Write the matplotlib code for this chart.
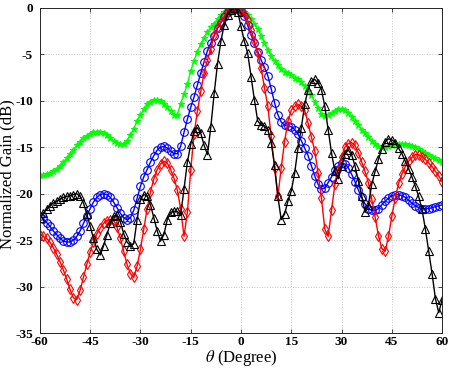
import matplotlib
matplotlib.use("Agg")
import matplotlib.pyplot as plt
import numpy as np

plt.rcParams["font.family"] = "serif"
plt.rcParams["font.serif"] = ["Liberation Serif", "DejaVu Serif"]
plt.rcParams["mathtext.fontset"] = "stix"

# scan angle, 1 degree steps
theta = list(range(-60, 61))
x_ticks = list(range(-60, 61, 15))
y_ticks = list(range(-35, 1, 5))

gain_green = [
    -18.0, -18.0, -17.9, -17.8, -17.6, -17.3, -17.0, -16.6, -16.2, -15.7,
    -15.3, -14.8, -14.4, -14.0, -13.8, -13.6, -13.4, -13.4, -13.4, -13.5,
    -13.7, -14.0, -14.3, -14.5, -14.6, -14.6, -14.3, -13.7, -13.0, -12.2,
    -11.5, -10.9, -10.4, -10.1, -9.9, -9.9, -10.0, -10.3, -10.7, -11.1,
    -11.5, -11.5, -10.3, -9.3, -8.2, -6.8, -5.7, -4.7, -3.9, -3.2,
    -2.6, -2.1, -1.7, -1.2, -0.8, -0.5, -0.2, 0.0, 0.0, -0.1,
    -0.3, -0.5, -0.8, -1.2, -1.7, -2.3, -3.0, -3.8, -4.5, -5.2,
    -5.7, -6.2, -6.6, -6.9, -7.0, -7.2, -7.5, -7.7, -8.0, -8.4,
    -8.9, -9.4, -10.1, -10.8, -11.4, -11.6, -11.5, -11.3, -11.1, -10.9,
    -10.9, -11.0, -11.3, -11.7, -12.2, -12.6, -13.1, -13.5, -13.9, -14.3,
    -14.7, -14.9, -15.0, -15.0, -14.9, -14.8, -14.7, -14.6, -14.6, -14.7,
    -14.8, -14.9, -15.0, -15.2, -15.4, -15.6, -15.8, -16.0, -16.2, -16.4,
    -16.6,
]

gain_blue = [
    -22.4, -22.7, -23.1, -23.5, -24.0, -24.4, -24.8, -25.1, -25.2, -25.2,
    -25.0, -24.6, -24.0, -23.2, -22.4, -21.6, -20.9, -20.4, -20.1, -20.0,
    -20.1, -20.4, -20.9, -21.5, -22.1, -22.6, -22.8, -22.6, -21.8, -20.5,
    -19.2, -18.2, -17.4, -16.6, -15.9, -15.3, -15.0, -14.9, -15.1, -15.4,
    -15.7, -15.7, -14.9, -13.4, -12.0, -10.7, -9.6, -8.3, -7.0, -5.8,
    -4.6, -3.8, -3.0, -2.2, -1.6, -1.0, -0.5, -0.2, 0.0, -0.1,
    -0.4, -0.9, -1.9, -2.9, -3.8, -4.7, -5.6, -6.4, -7.3, -8.7,
    -10.2, -11.5, -12.3, -12.6, -12.7, -12.8, -13.1, -13.6, -14.3, -15.1,
    -15.9, -17.0, -18.1, -19.0, -19.5, -19.4, -18.8, -18.2, -17.5, -17.0,
    -16.7, -16.8, -17.2, -17.9, -18.7, -19.6, -20.4, -21.1, -21.6, -21.8,
    -21.8, -21.6, -21.2, -20.8, -20.5, -20.2, -20.1, -20.1, -20.2, -20.4,
    -20.7, -21.0, -21.3, -21.5, -21.6, -21.6, -21.6, -21.5, -21.4, -21.3,
    -21.2,
]

gain_red = [
    -24.4, -24.6, -24.8, -25.2, -25.8, -26.5, -27.3, -28.2, -29.2, -30.3,
    -31.2, -31.4, -30.4, -29.0, -27.6, -26.3, -25.2, -24.3, -23.7, -23.2,
    -22.9, -22.8, -22.8, -23.6, -24.8, -26.2, -27.6, -28.6, -29.0, -27.8,
    -26.0, -23.8, -21.6, -19.8, -18.4, -17.4, -16.8, -16.5, -16.7, -17.4,
    -18.3, -19.6, -21.6, -24.6, -22.0, -17.5, -13.6, -11.1, -9.0, -7.0,
    -5.6, -4.4, -2.9, -2.1, -1.5, -0.9, -0.5, -0.2, -0.05, 0.0,
    -0.3, -0.6, -1.3, -2.4, -3.6, -4.9, -6.5, -8.6, -10.6, -13.8,
    -17.2, -20.3, -17.2, -14.4, -12.2, -11.0, -10.6, -10.4, -10.6, -11.0,
    -12.4, -13.9, -15.4, -17.8, -20.5, -23.8, -24.6, -21.8, -19.0, -17.4,
    -16.0, -15.0, -14.6, -14.5, -14.8, -15.6, -16.6, -17.6, -18.8, -20.6,
    -22.5, -24.5, -25.9, -26.2, -24.6, -22.4, -20.5, -18.9, -17.9, -17.1,
    -16.5, -16.1, -15.8, -15.8, -16.0, -16.3, -16.7, -17.1, -17.6, -18.1,
    -18.7,
]

gain_black = [
    -22.6, -22.1, -21.7, -21.3, -21.0, -20.8, -20.6, -20.4, -20.3, -20.2,
    -20.1, -20.0, -20.3, -21.0, -22.2, -23.5, -24.8, -26.0, -26.6, -25.6,
    -24.4, -23.2, -22.4, -22.3, -23.0, -24.3, -25.2, -25.6, -25.4, -22.8,
    -20.6, -20.1, -20.2, -21.2, -22.6, -24.0, -25.1, -24.4, -22.8, -22.0,
    -21.9, -21.9, -22.3, -19.5, -16.6, -14.7, -13.3, -12.9, -13.5, -14.8,
    -15.8, -12.8, -9.2, -6.0, -3.6, -1.8, -0.8, -0.2, 0.0, -0.4,
    -2.0, -3.6, -4.9, -7.4, -9.9, -12.2, -12.6, -12.7, -13.1, -14.5,
    -16.9, -20.3, -22.8, -22.2, -20.8, -19.7, -17.8, -15.1, -12.9, -10.4,
    -8.8, -7.9, -7.7, -8.1, -8.8, -10.6, -13.1, -15.6, -17.6, -18.4,
    -17.0, -15.7, -15.3, -15.8, -17.0, -18.6, -20.2, -22.0, -21.2, -19.0,
    -17.6, -16.3, -15.2, -14.4, -14.1, -14.2, -14.5, -15.1, -15.7, -16.5,
    -17.3, -18.2, -19.2, -20.3, -21.7, -23.8, -26.2, -28.6, -31.3, -32.8,
    -31.4,
]

fig = plt.figure(figsize=(4.53, 3.73), dpi=100)
ax = fig.add_axes([0.088, 0.107, 0.888, 0.872])

ax.plot(theta, gain_green, "-*", color=(0, 1, 0), lw=1.0, ms=5,
        markeredgewidth=0.8)
ax.plot(theta, gain_blue, "-o", color="b", lw=1.0, ms=5.5,
        markerfacecolor="none", markeredgewidth=0.8)
ax.plot(theta, gain_red, "-d", color="r", lw=1.0, ms=5.5,
        markerfacecolor="none", markeredgewidth=0.8)
ax.plot(theta, gain_black, "-^", color="k", lw=1.0, ms=5.5,
        markerfacecolor="none", markeredgewidth=0.8)

ax.set_xlim(-60, 60)
ax.set_ylim(-35, 0)
ax.set_xticks(x_ticks, labels=[str(v) for v in x_ticks], fontweight="bold")
ax.set_yticks(y_ticks, labels=[str(v) for v in y_ticks], fontweight="bold")
ax.grid(True, linestyle=":", color="#c8c8c8", linewidth=0.7)
ax.set_axisbelow(True)

for s in ax.spines.values():
    s.set_color("#262626")
    s.set_linewidth(0.7)
ax.tick_params(direction="in", length=3, width=0.6, color="#262626",
               labelsize=9.5, top=True, right=True)
ax.tick_params(axis="x", pad=2)
ax.tick_params(axis="y", pad=5)

ax.set_xlabel(r"$\theta$ (Degree)", fontsize=12)
ax.set_ylabel("Normalized Gain (dB)", fontsize=12)
# label anchors sit on the edge next to the axes
ax.xaxis.set_label_coords(0.5, -0.045)
ax.yaxis.set_label_coords(-0.062, 0.49)

fig.savefig("out.png", dpi=100)
